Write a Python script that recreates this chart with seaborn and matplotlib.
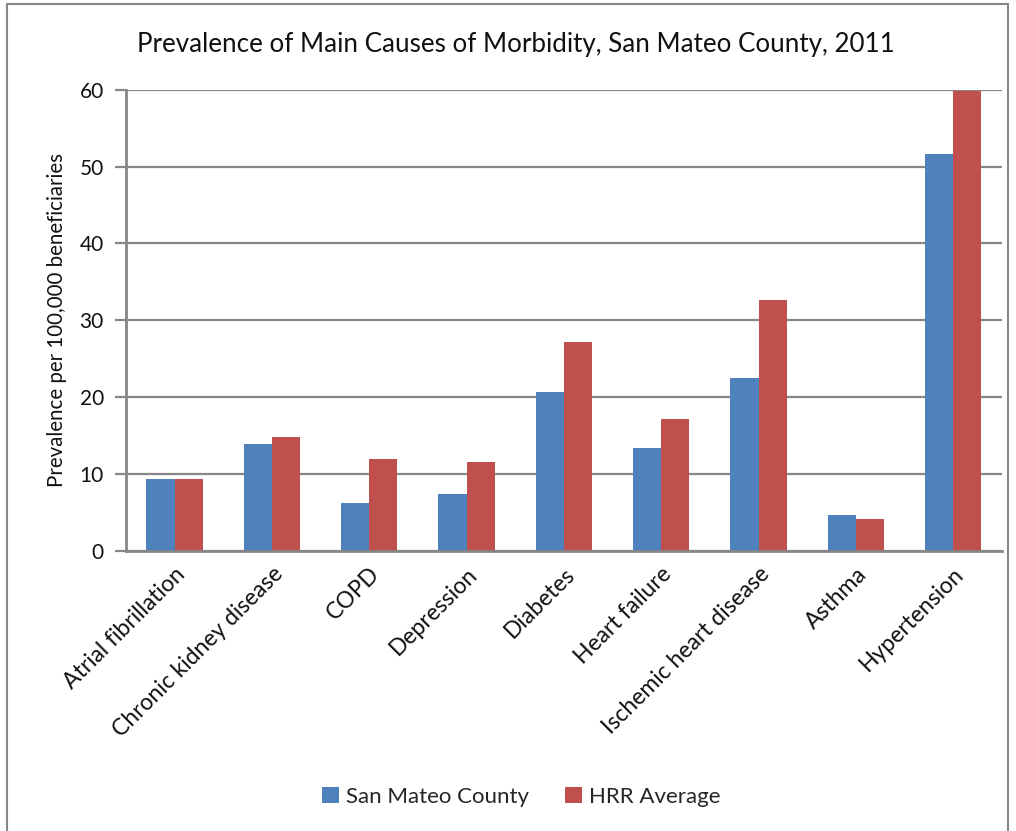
import matplotlib
matplotlib.use("Agg")
import matplotlib.pyplot as plt
from matplotlib.patches import Rectangle, Patch
import seaborn as sns
import pandas as pd

# Chart data
categories = ["Atrial fibrillation", "Chronic kidney disease", "COPD", "Depression",
              "Diabetes", "Heart failure", "Ischemic heart disease", "Asthma", "Hypertension"]
san_mateo = [9.4, 13.9, 6.3, 7.4, 20.7, 13.4, 22.5, 4.7, 51.7]
hrr_average = [9.3, 14.8, 11.9, 11.6, 27.2, 17.2, 32.7, 4.1, 59.9]
series_names = ["San Mateo County", "HRR Average"]
y_ticks = [0, 10, 20, 30, 40, 50, 60]

title = "Prevalence of Main Causes of Morbidity, San Mateo County, 2011"
y_label = "Prevalence per 100,000 beneficiaries"

df = pd.DataFrame({
    "Cause": categories * 2,
    "Series": [series_names[0]] * len(categories) + [series_names[1]] * len(categories),
    "Value": san_mateo + hrr_average,
})

sns.set_theme(style="white")
plt.rcParams["font.family"] = ["Lato", "DejaVu Sans"]

colors = {"San Mateo County": "#4F81BD", "HRR Average": "#C0504D"}
grid_gray = "#878787"
text_color = "#111111"

fig = plt.figure(figsize=(10.16, 8.31), dpi=100)
ax = fig.add_axes([0.124, 0.337, 0.862, 0.555])

sns.barplot(data=df, x="Cause", y="Value", hue="Series", order=categories,
            hue_order=series_names, palette=colors, width=0.58, gap=0,
            saturation=1, errorbar=None, legend=False, ax=ax, linewidth=0)

ax.set_xlim(-0.5, len(categories) - 0.5)
ax.set_ylim(0, 60)
ax.set_yticks(y_ticks)
ax.set_yticklabels([str(t) for t in y_ticks], fontsize=15, color=text_color)
ax.yaxis.grid(True, color=grid_gray, linewidth=1.6)
ax.set_axisbelow(True)

# Category ticks sit on the boundaries between groups
ax.set_xticks([i - 0.5 for i in range(len(categories) + 1)], minor=False)
ax.set_xticklabels([""] * (len(categories) + 1))
ax.set_xticks(range(len(categories)), minor=True)
ax.set_xticklabels(categories, minor=True, rotation=45, ha="right", va="top",
                   rotation_mode="anchor", fontsize=16.5, color=text_color)
ax.tick_params(axis="x", which="minor", length=0, pad=9)
ax.tick_params(axis="x", which="major", length=8, width=1.6, color=grid_gray, direction="out")
ax.tick_params(axis="y", length=8, width=1.6, color=grid_gray, direction="out", pad=8, left=True)

for side in ["top", "right"]:
    ax.spines[side].set_visible(False)
for side in ["left", "bottom"]:
    ax.spines[side].set_color(grid_gray)
    ax.spines[side].set_linewidth(2)

ax.set_xlabel("")
ax.set_ylabel(y_label, fontsize=14.8, color=text_color, labelpad=9)

fig.text(0.508, 0.946, title, ha="center", va="center", fontsize=18.7, color=text_color)

handles = [Patch(facecolor=colors[s], edgecolor="none") for s in series_names]
fig.legend(handles, series_names, loc="center", bbox_to_anchor=(0.513, 0.041), ncol=2,
           frameon=False, fontsize=16, handlelength=0.75, handleheight=0.75,
           handletextpad=0.3, columnspacing=1.65)

# Outer chart frame
fig.patches.append(Rectangle((7 / 1016, -0.01), 1001 / 1016, 1.0 - 4 / 831 + 0.01,
                             transform=fig.transFigure, fill=False,
                             edgecolor=grid_gray, linewidth=1.5))

fig.savefig("out.png", dpi=100)
